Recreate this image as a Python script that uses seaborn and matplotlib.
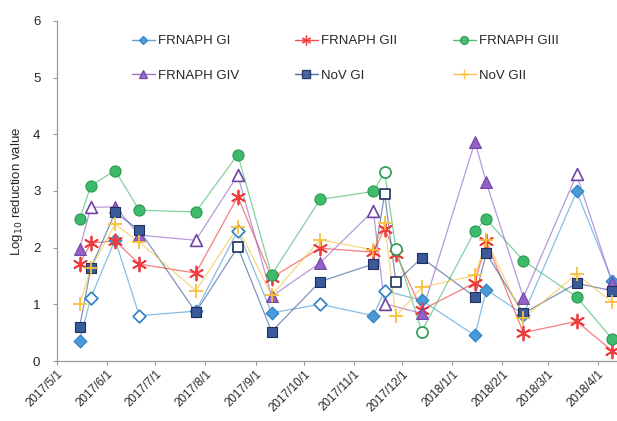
import numpy as np
import pandas as pd
import matplotlib
matplotlib.use("Agg")
import matplotlib.pyplot as plt
from matplotlib.lines import Line2D
import seaborn as sns

# sampling dates
dates = pd.to_datetime([
    "2017-05-15", "2017-05-22", "2017-06-06", "2017-06-21", "2017-07-26",
    "2017-08-21", "2017-09-11", "2017-10-11", "2017-11-13", "2017-11-20",
    "2017-11-27", "2017-12-13", "2018-01-15", "2018-01-22", "2018-02-14",
    "2018-03-19", "2018-04-10",
])

frnaph_gi = [0.36, 1.12, 2.14, 0.80, 0.88, 2.30, 0.85, 1.00, 0.80, 1.24,
             np.nan, 1.07, 0.45, 1.26, 0.82, 2.99, 1.42]
frnaph_gii = [1.71, 2.08, 2.12, 1.71, 1.55, 2.90, 1.47, 1.99, 1.92, 2.33,
              1.89, 0.90, 1.38, 2.11, 0.50, 0.70, 0.18]
frnaph_giii = [2.50, 3.09, 3.36, 2.66, 2.63, 3.64, 1.52, 2.85, 2.99, 3.34,
               1.98, 0.52, 2.30, 2.50, 1.77, 1.13, 0.39]
frnaph_giv = [1.98, 2.71, 2.72, 2.22, 2.13, 3.28, 1.14, 1.73, 2.65, 1.01,
              np.nan, 0.84, 3.87, 3.15, 1.12, 3.29, 1.38]
nov_gi = [0.60, 1.64, 2.62, 2.31, 0.86, 2.01, 0.52, 1.40, 1.71, 2.95,
          1.39, 1.82, 1.13, 1.90, 0.84, 1.37, 1.24]
nov_gii = [1.00, 1.64, 2.41, 2.10, 1.24, 2.36, 1.16, 2.14, 1.96, 2.44,
           0.79, 1.30, 1.51, 2.13, 0.76, 1.53, 1.04]

# indices of hollow (open) markers
open_gi = [1, 3, 5, 7, 9]
open_gii = []
open_giii = [9, 10, 11]
open_giv = [1, 4, 5, 8, 9, 15]
open_nov_gi = [5, 9, 10]
open_nov_gii = []

tick_dates = pd.date_range("2017-05-01", "2018-04-01", freq="MS")
tick_labels = [f"{d.year}/{d.month}/{d.day}" for d in tick_dates]

series = [
    ("FRNAPH GI", frnaph_gi, open_gi, "#4a9ad8", "#2f7fc4", "D", 6.5),
    ("FRNAPH GII", frnaph_gii, open_gii, "#ee3b3b", "#ee3b3b", (6, 2, 0), 10),
    ("FRNAPH GIII", frnaph_giii, open_giii, "#3dba6a", "#2a9a52", "o", 8),
    ("FRNAPH GIV", frnaph_giv, open_giv, "#9462c6", "#6f44a3", "^", 8.5),
    ("NoV GI", nov_gi, open_nov_gi, "#3a5a9a", "#1f2f5e", "s", 7.5),
    ("NoV GII", nov_gii, open_nov_gii, "#f7c23a", "#f7c23a", "+", 10),
]

rows = []
for name, vals, opens, *_ in series:
    for i, (d, v) in enumerate(zip(dates, vals)):
        rows.append({"date": d, "series": name, "value": v, "hollow": i in opens})
df = pd.DataFrame(rows).dropna()

sns.set_style("white")
plt.rcParams["font.family"] = ["Liberation Sans", "DejaVu Sans"]

fig = plt.figure(figsize=(6.17, 4.21), dpi=100)
ax = fig.add_axes([0.0924, 0.1425, 0.9076, 0.808])

for name, vals, opens, color, edge, marker, ms in series:
    sub = df[df["series"] == name]
    sns.lineplot(data=sub, x="date", y="value", color=color, lw=0.9,
                 alpha=0.65, ax=ax, legend=False)
    filled = sub[~sub["hollow"]]
    hollow = sub[sub["hollow"]]
    lined = marker in ("+", (6, 2, 0))
    sns.scatterplot(data=filled, x="date", y="value", marker=marker,
                    s=ms ** 2, color=color,
                    edgecolor=color if lined else edge,
                    linewidth=1.3 if lined else 0.8, ax=ax, legend=False,
                    zorder=3)
    if len(hollow):
        sns.scatterplot(data=hollow, x="date", y="value", marker=marker,
                        s=ms ** 2, facecolor="white", edgecolor=edge,
                        linewidth=1.2, ax=ax, legend=False, zorder=3)

ax.set_xlim(pd.Timestamp("2017-05-01"), pd.Timestamp("2018-04-13"))
ax.set_ylim(0, 6)
ax.set_yticks(range(0, 7))
ax.set_xticks(tick_dates)
ax.set_xticklabels(tick_labels, rotation=45, ha="right",
                   rotation_mode="anchor", fontsize=8.5)
ax.tick_params(axis="y", labelsize=9.5, length=3, color="#999999", pad=9,
               left=True)
ax.tick_params(axis="x", length=3, color="#999999", pad=2, bottom=True)
ax.set_xlabel("")
ax.set_ylabel("Log$_{10}$ reduction value", fontsize=9.5, labelpad=6)

for side in ("top", "right"):
    ax.spines[side].set_visible(False)
for side in ("left", "bottom"):
    ax.spines[side].set_color("#9a9a9a")
    ax.spines[side].set_linewidth(0.9)

handles = []
for name, vals, opens, color, edge, marker, ms in series:
    lined = marker in ("+", (6, 2, 0))
    handles.append(Line2D([], [], color=color, lw=1, alpha=0.9, marker=marker,
                          markersize=ms * 0.7, markerfacecolor=color,
                          markeredgecolor=color if lined else edge,
                          label=name))
order = [0, 3, 1, 4, 2, 5]
ax.legend([handles[i] for i in order], [series[i][0] for i in order],
          ncol=3, loc="upper left", bbox_to_anchor=(0.112, 0.993),
          frameon=False, fontsize=9.5, handlelength=1.75, handletextpad=0.25,
          columnspacing=4.2, labelspacing=1.7)

fig.savefig("out.png", dpi=100)
